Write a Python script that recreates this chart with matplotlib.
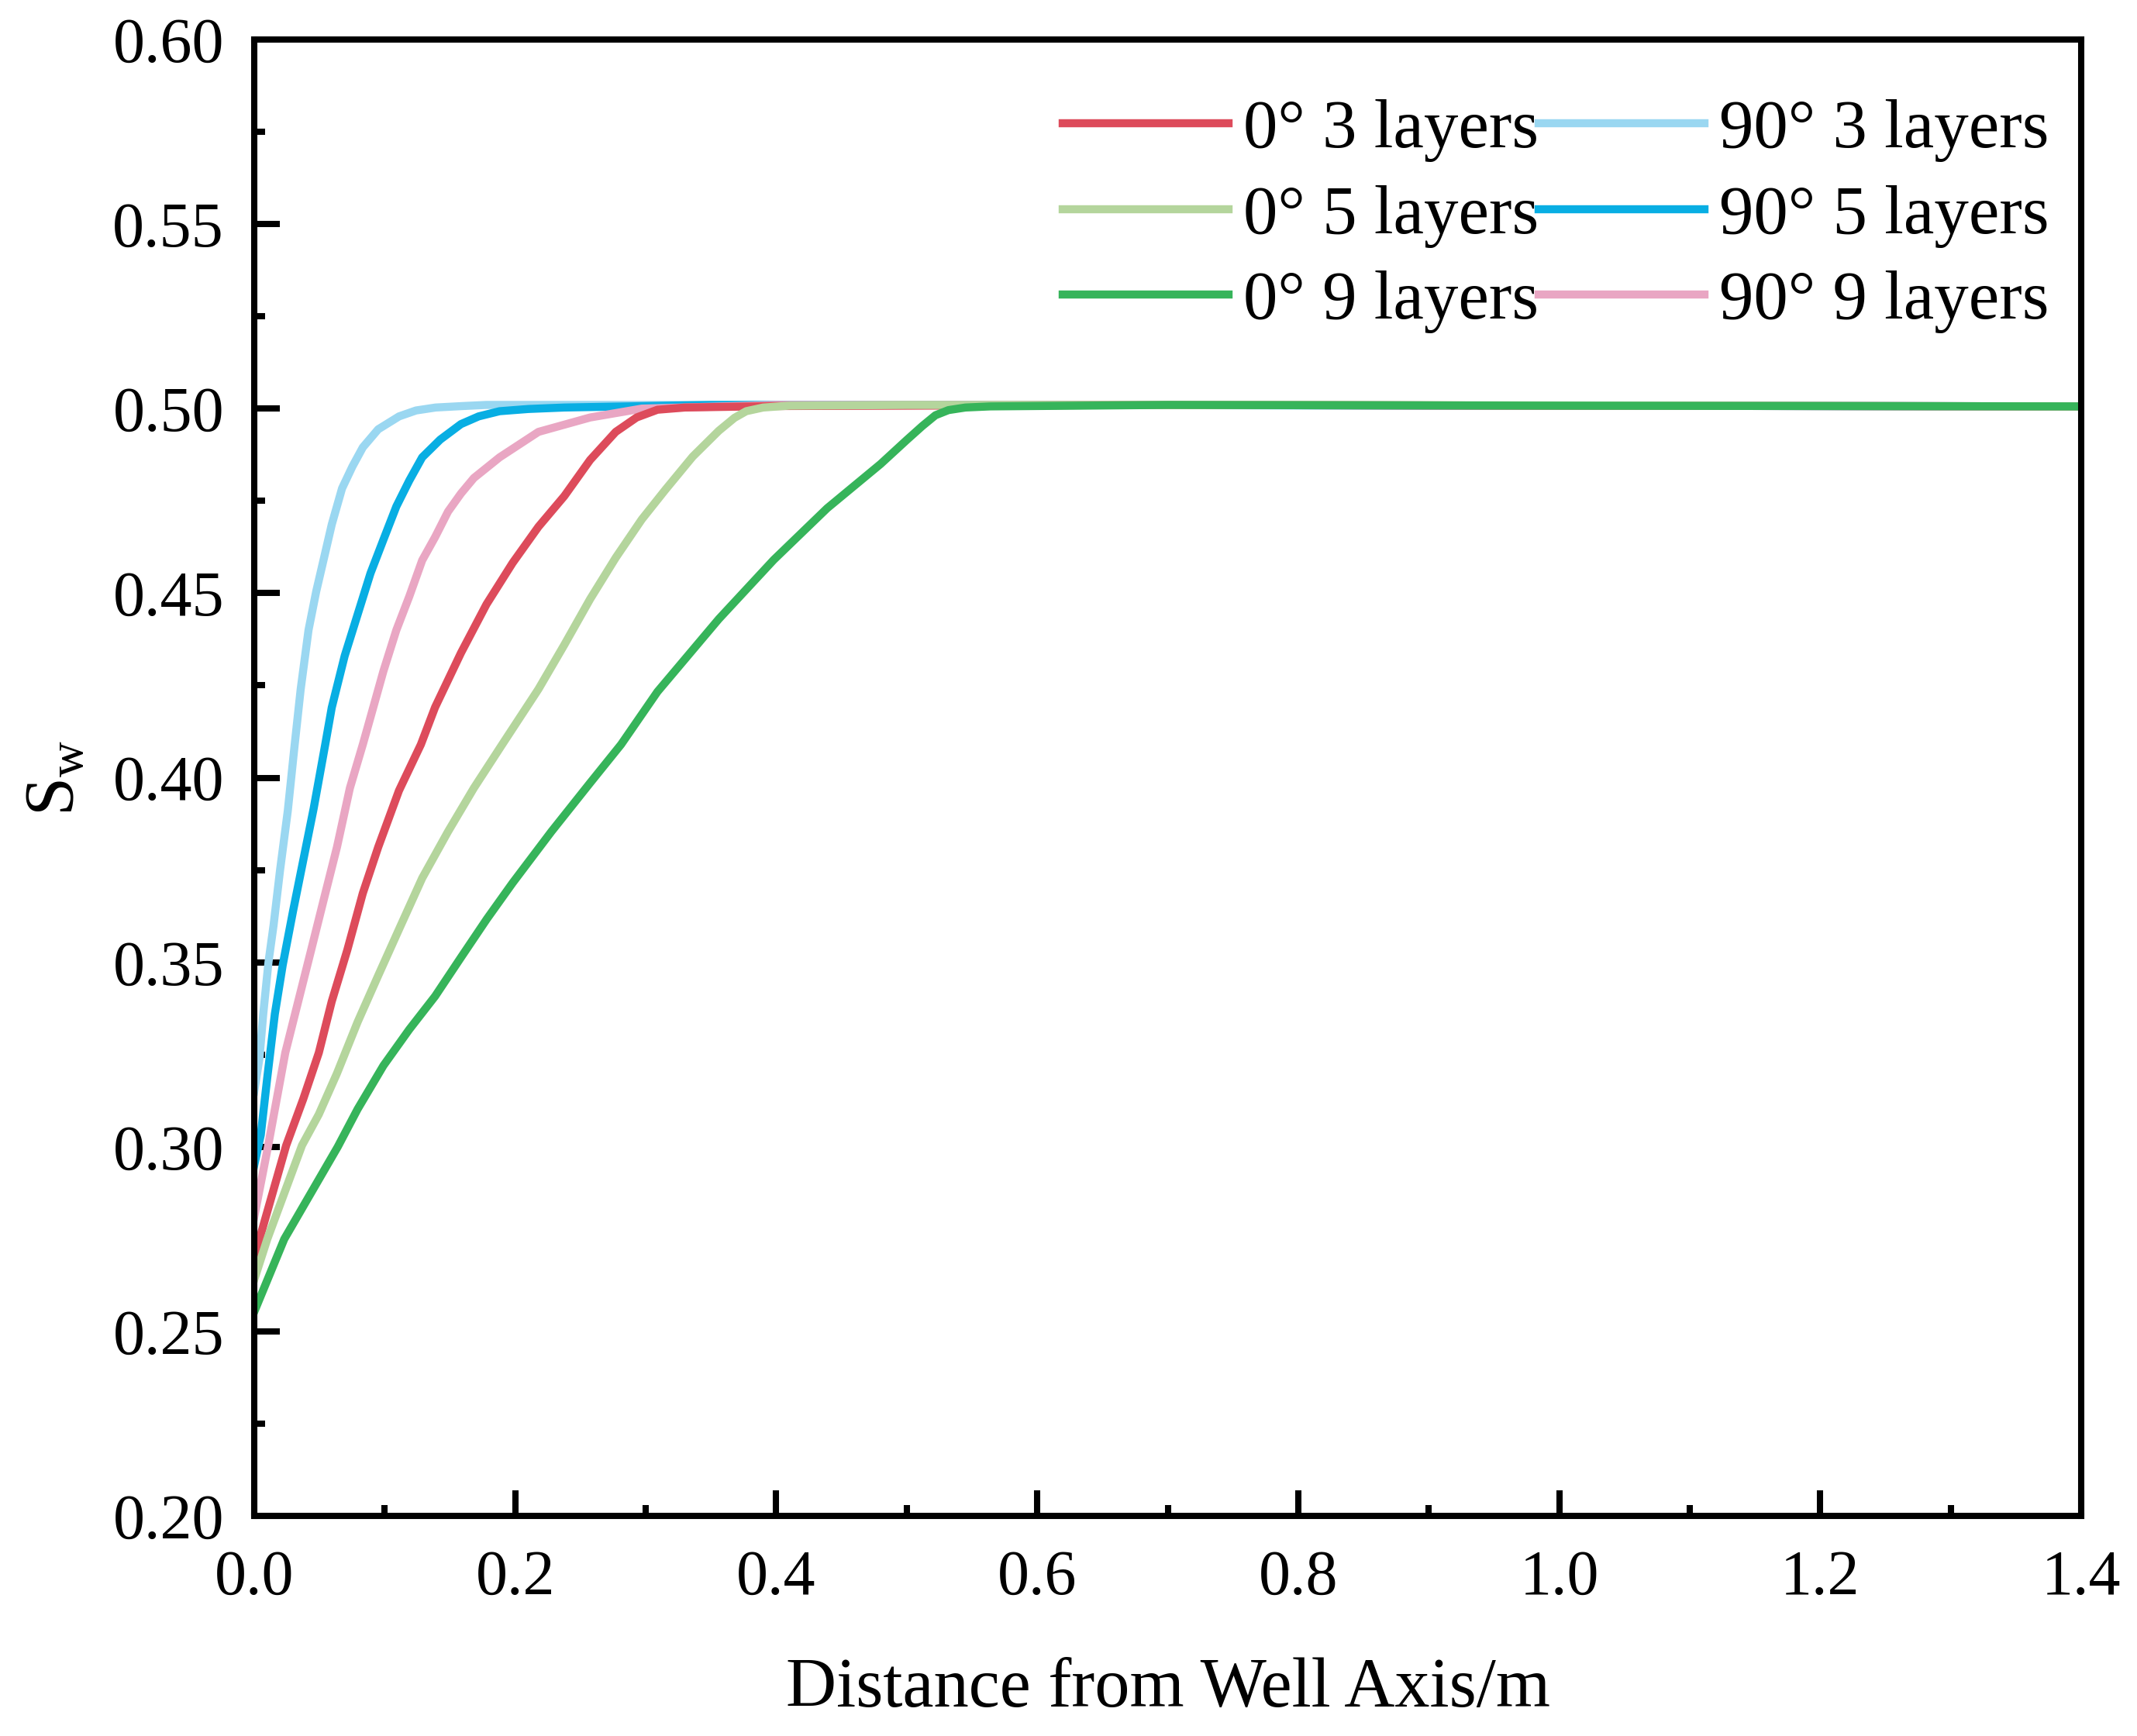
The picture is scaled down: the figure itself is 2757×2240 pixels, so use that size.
import matplotlib
matplotlib.use("Agg")
import matplotlib.pyplot as plt
from matplotlib.ticker import MultipleLocator, FormatStrFormatter

plt.rcParams['font.family'] = ['Liberation Serif', 'DejaVu Serif']
plt.rcParams['mathtext.fontset'] = 'custom'
plt.rcParams['mathtext.rm'] = 'Liberation Serif'

# data
x_0_3 = [0, 0.004, 0.0245, 0.0376, 0.0495, 0.0594, 0.0713, 0.0832, 0.095, 0.1109, 0.1277, 0.1386,
         0.1584, 0.178, 0.198, 0.2178, 0.2376, 0.2574, 0.277, 0.293, 0.309, 0.33, 0.4, 0.7, 1.0, 1.4]
y_0_3 = [0.270, 0.275, 0.3004, 0.313, 0.3255, 0.3394, 0.3533, 0.3687, 0.3812, 0.3965, 0.409, 0.4191,
         0.4338, 0.447, 0.4582, 0.468, 0.4763, 0.4861, 0.4937, 0.4976, 0.4997, 0.5003, 0.5007, 0.501, 0.5008, 0.5006]

x_0_5 = [0, 0.010, 0.0366, 0.0495, 0.0634, 0.0792, 0.095, 0.1109, 0.1287, 0.1485, 0.1683, 0.19, 0.2178,
         0.2376, 0.2574, 0.277, 0.297, 0.315, 0.336, 0.356, 0.368, 0.377, 0.39, 0.41, 0.5, 0.8, 1.1, 1.4]
y_0_5 = [0.264, 0.275, 0.3004, 0.3088, 0.3199, 0.3338, 0.3464, 0.3589, 0.3728, 0.3854, 0.3972, 0.409, 0.424,
         0.436, 0.4484, 0.4596, 0.470, 0.478, 0.487, 0.494, 0.4975, 0.4993, 0.5003, 0.5008, 0.501, 0.501, 0.5008, 0.5006]

x_0_9 = [0, 0.023, 0.064, 0.0792, 0.099, 0.1188, 0.1386, 0.1584, 0.1782, 0.198, 0.2277, 0.2574, 0.2811,
         0.309, 0.356, 0.398, 0.439, 0.48, 0.50, 0.512, 0.522, 0.532, 0.545, 0.564, 0.7, 1.0, 1.4]
y_0_9 = [0.2553, 0.275, 0.300, 0.3102, 0.322, 0.3318, 0.3408, 0.3513, 0.3617, 0.3715, 0.3854, 0.3986, 0.409,
         0.4233, 0.443, 0.459, 0.473, 0.485, 0.4915, 0.4953, 0.4982, 0.4996, 0.5003, 0.5006, 0.501, 0.5008, 0.5006]

x_90_3 = [0, 0.004, 0.0069, 0.0109, 0.0148, 0.0198, 0.0257, 0.0307, 0.0356, 0.0416, 0.0475, 0.0535, 0.0594,
          0.0673, 0.0752, 0.0832, 0.095, 0.111, 0.124, 0.139, 0.16, 0.178, 0.3, 0.6, 1.0, 1.4]
y_90_3 = [0.315, 0.324, 0.336, 0.350, 0.360, 0.375, 0.391, 0.408, 0.424, 0.440, 0.4505, 0.4596, 0.4686,
          0.4784, 0.4843, 0.4895, 0.4944, 0.4979, 0.4995, 0.5003, 0.5007, 0.501, 0.501, 0.501, 0.5008, 0.5006]

x_90_5 = [0, 0.005, 0.0099, 0.0158, 0.0218, 0.0297, 0.0376, 0.0455, 0.0544, 0.0594, 0.0693, 0.0792, 0.0891,
          0.099, 0.1089, 0.1188, 0.1287, 0.1425, 0.1584, 0.172, 0.188, 0.21, 0.2376, 0.35, 0.6, 1.0, 1.4]
y_90_5 = [0.295, 0.3032, 0.3185, 0.336, 0.3492, 0.3638, 0.3777, 0.3916, 0.409, 0.419, 0.433, 0.4442, 0.4554,
          0.4645, 0.4735, 0.4805, 0.4868, 0.4916, 0.4958, 0.4979, 0.4993, 0.4999, 0.5003, 0.501, 0.501, 0.5008, 0.5006]

x_90_9 = [0, 0.0105, 0.0238, 0.0337, 0.0436, 0.0535, 0.0634, 0.0733, 0.0832, 0.0891, 0.099, 0.1089, 0.1188,
          0.1287, 0.1386, 0.1485, 0.1584, 0.1683, 0.188, 0.2178, 0.2574, 0.297, 0.4, 0.7, 1.0, 1.4]
y_90_9 = [0.281, 0.300, 0.3255, 0.3394, 0.3533, 0.3673, 0.3812, 0.3972, 0.409, 0.4164, 0.4289, 0.440, 0.4491,
          0.4589, 0.4652, 0.4721, 0.477, 0.4812, 0.4868, 0.4937, 0.4976, 0.5, 0.501, 0.501, 0.5008, 0.5006]

labels_0 = ['0° 3 layers', '0° 5 layers', '0° 9 layers']
labels_90 = ['90° 3 layers', '90° 5 layers', '90° 9 layers']
colors_0 = ['#DD4B5B', '#B4D59C', '#36B45A']
colors_90 = ['#9AD7F1', '#08AEE3', '#E9A6C3']

fig = plt.figure(figsize=(27.57, 22.4), dpi=100)
ax = fig.add_axes([328 / 2757, 1 - 1956 / 2240, (2685 - 328) / 2757, (1956 - 51) / 2240])

lw = 7.5
h90 = []
for xs, ys, c, lab in zip([x_90_3, x_90_5, x_90_9], [y_90_3, y_90_5, y_90_9], colors_90, labels_90):
    h90.append(ax.plot(xs, ys, color=c, lw=lw, label=lab, solid_joinstyle='round')[0])
h0 = []
for xs, ys, c, lab in zip([x_0_3, x_0_5, x_0_9], [y_0_3, y_0_5, y_0_9], colors_0, labels_0):
    h0.append(ax.plot(xs, ys, color=c, lw=lw, label=lab, solid_joinstyle='round')[0])

ax.set_xlim(0, 1.4)
ax.set_ylim(0.2, 0.6)
ax.xaxis.set_major_locator(MultipleLocator(0.2))
ax.xaxis.set_minor_locator(MultipleLocator(0.1))
ax.yaxis.set_major_locator(MultipleLocator(0.05))
ax.yaxis.set_minor_locator(MultipleLocator(0.025))
ax.xaxis.set_major_formatter(FormatStrFormatter('%.1f'))
ax.yaxis.set_major_formatter(FormatStrFormatter('%.2f'))

for s in ax.spines.values():
    s.set_linewidth(5.8)
ax.tick_params(which='both', direction='in', top=False, right=False, width=5.8, labelsize=59)
ax.tick_params(which='major', length=24)
ax.tick_params(which='minor', length=10)
ax.tick_params(axis='x', which='major', pad=31)
ax.tick_params(axis='y', which='major', pad=28)

ax.set_xlabel('Distance from Well Axis/m', fontsize=65, labelpad=46)
ax.set_ylabel(r'$\mathrm{S_w}$', fontsize=65, labelpad=22)

leg = ax.legend(h0 + h90, labels_0 + labels_90, ncol=2, frameon=False, fontsize=64,
                loc='upper right', bbox_to_anchor=(2644 / 2757, 1 - 128 / 2240),
                bbox_transform=fig.transFigure, borderpad=0, borderaxespad=0,
                handlelength=2.4, handletextpad=0.22, columnspacing=0.0, labelspacing=0.33)

fig.savefig('out.png', dpi=100)
